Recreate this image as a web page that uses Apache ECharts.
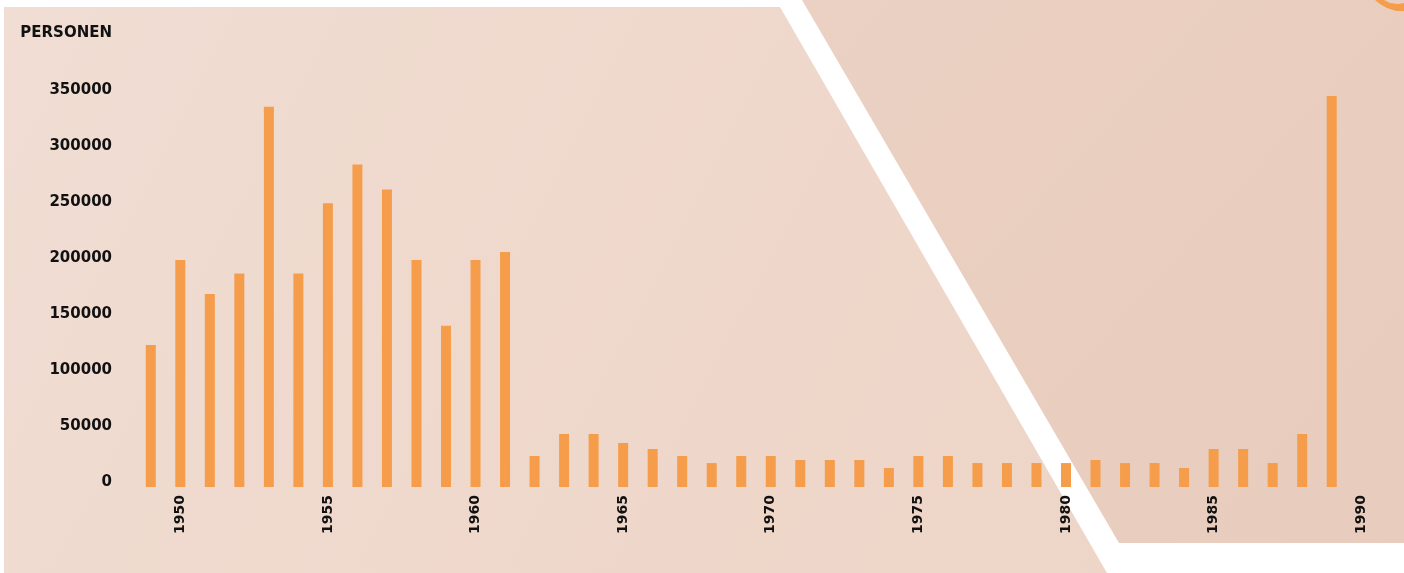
<!DOCTYPE html>
<html>
<head>
<meta charset="utf-8">
<script src="https://cdn.jsdelivr.net/npm/echarts@6/dist/echarts.min.js"></script>
<style>
html,body{margin:0;padding:0;background:#ffffff;}
#chart{width:1404px;height:573px;}
</style>
</head>
<body>
<div id="chart"></div>
<script>
// Years (categories)
const years = ['1949','1950','1951','1952','1953','1954','1955','1956','1957','1958','1959',
  '1960','1961','1962','1963','1964','1965','1966','1967','1968','1969',
  '1970','1971','1972','1973','1974','1975','1976','1977','1978','1979',
  '1980','1981','1982','1983','1984','1985','1986','1987','1988','1989','1990'];
// Persons per year
const persons = [125000,200000,170000,188000,335000,188000,250000,284000,262000,200000,142000,
  200000,207000,27300,46700,46700,38800,33500,27300,21100,27300,
  27300,23800,23800,23800,16700,27300,27300,21100,21100,21100,
  21100,23800,21100,21100,16700,33500,33500,21100,46700,344500,null];
// Value-axis tick range
const yMax = 350000;
const yStep = 50000;
const yTitle = 'PERSONEN';

const FONT = 'DejaVu Sans';
const chart = echarts.init(document.getElementById('chart'), null, {renderer:'canvas'});

const option = {
  animation: false,
  backgroundColor: '#ffffff',
  graphic: [
    { type:'polygon', z:-10, silent:true,
      shape:{ points:[[4,7],[780,7],[1107,573],[4,573]] },
      style:{ fill: new echarts.graphic.LinearGradient(0,0,1,1,[
        {offset:0,color:'#f0ddd3'},{offset:0.5,color:'#efd8cc'},{offset:1,color:'#edd5c7'}]) } },
    { type:'polygon', z:-10, silent:true,
      shape:{ points:[[802,0],[1404,0],[1404,543],[1119,543]] },
      style:{ fill: new echarts.graphic.LinearGradient(0,0,1,1,[
        {offset:0,color:'#ebd1c3'},{offset:1,color:'#e8ccbd'}]) } },
    { type:'polygon', z:-9, silent:true,
      shape:{ points:[[1375,0],[1384,0],[1390,3],[1398,4],[1404,3],[1404,11],[1396,11],[1387,8],[1380,4]] },
      style:{ fill:'#f59d4b' } },
    { type:'text', z:5, silent:true,
      x:112, y:33.5,
      style:{ text:yTitle, fill:'#111111', font:'bold 15px "DejaVu Sans"', align:'right', verticalAlign:'middle' } }
  ],
  grid: [
    { left:136, right:28, top:89.7, bottom:86, containLabel:false },
    { left:136, right:28, top:89.7, bottom:91.3, containLabel:false }
  ],
  xAxis: [
    { type:'category', gridIndex:0, data:years,
      axisLine:{show:false}, axisTick:{show:false},
      axisLabel:{ interval:(i,v)=> Number(v)%5===0, rotate:90, margin:8,
        fontFamily:FONT, fontWeight:'bold', fontSize:14, color:'#111111' } },
    { type:'category', gridIndex:1, data:years, show:false }
  ],
  yAxis: [
    { type:'value', gridIndex:0, min:0, max:yMax, interval:yStep, show:false, splitLine:{show:false} },
    { type:'value', gridIndex:1, min:0, max:yMax, interval:yStep,
      axisLine:{show:false}, axisTick:{show:false}, splitLine:{show:false},
      axisLabel:{ margin:24, formatter:(v)=>String(v), fontFamily:FONT, fontWeight:'bold', fontSize:15, color:'#111111' } }
  ],
  series: [
    { type:'bar', xAxisIndex:0, yAxisIndex:0, data:persons, barWidth:10,
      itemStyle:{ color:'#f59d4b' } }
  ]
};
chart.setOption(option);
</script>
</body>
</html>
